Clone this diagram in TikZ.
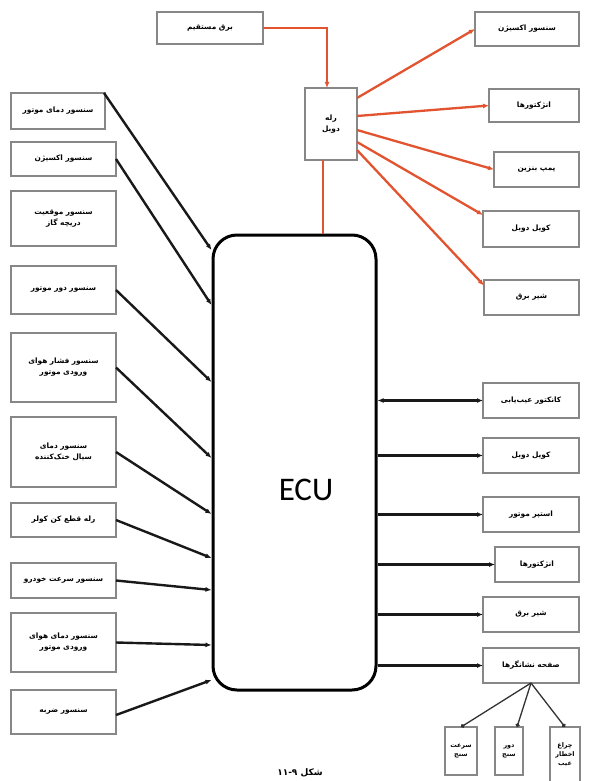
\documentclass[tikz,border=0pt]{standalone}
\usepackage{fontspec}
\setmainfont{Carlito}
\newfontfamily\fafont[Script=Arabic]{DejaVu Sans}
\TeXXeTstate=1
\newcommand{\fa}[1]{{\fafont\bfseries\beginR #1\endR}}
\usetikzlibrary{arrows.meta}
\definecolor{relred}{RGB}{226,84,48}
\definecolor{boxgray}{RGB}{135,135,135}
\tikzset{
  box/.style={draw=boxgray, line width=1.7pt, fill=white, inner sep=1pt, outer sep=0pt,
    align=center, font=\fontsize{7.4}{11}\selectfont},
  smallbox/.style={box, font=\fontsize{6.4}{9}\selectfont},
  redline/.style={draw=relred, line width=2.3pt},
  blkline/.style={draw=black!90, line width=2.4pt},
  tip/.style={-{Latex[length=6pt,width=5pt]}},
  bitip/.style={{Latex[length=6pt,width=5pt]}-{Latex[length=6pt,width=5pt]}},
}
\begin{document}
\begin{tikzpicture}[x=1pt,y=-1pt]
\useasboundingbox (0,0) rectangle (589,781);
\fill[white] (0,0) rectangle (589,781);

% ECU
\node[draw=black, line width=3pt, rounded corners=24pt, minimum width=163pt, minimum height=455pt, inner sep=0pt] (ecu) at (294.5,462.5) {};
\node[font=\fontsize{33}{36}\selectfont] (ecutxt) at (306,490) {ECU};

% top relay part
\node[box, minimum width=106pt, minimum height=32pt] (dc) at (210,28) {\fa{برق مستقیم}};
\node[box, minimum width=52pt, minimum height=72pt] (relay) at (331,124) {\fa{رله}\\\fa{دوبل}};
\node[box, minimum width=104pt, minimum height=34pt] (r1) at (527,29) {\fa{سنسور اکسیژن}};
\node[box, minimum width=90pt, minimum height=33pt] (r2) at (534,105.5) {\fa{انژکتورها}};
\node[box, minimum width=85pt, minimum height=35pt] (r3) at (536.5,169.5) {\fa{پمپ بنزین}};
\node[box, minimum width=96pt, minimum height=36pt] (r4) at (531,229) {\fa{کویل دوبل}};
\node[box, minimum width=95pt, minimum height=35pt] (r5) at (531.5,297.5) {\fa{شیر برق}};

\draw[redline, tip] (dc.east) -| ([xshift=-4pt]relay.north);
\draw[redline] ([xshift=-8pt]relay.south) -- ([xshift=-8pt]relay.south |- ecu.north);
\draw[redline, tip] ([yshift=26pt]relay.east) -- (r1.west);
\draw[redline, tip] ([yshift=8pt]relay.east) -- (r2.west);
\draw[redline, tip] ([yshift=-6pt]relay.east) -- (r3.west);
\draw[redline, tip] ([yshift=-18pt]relay.east) -- ([yshift=14pt]r4.west);
\draw[redline, tip] ([yshift=-26pt]relay.east) -- ([yshift=12pt]r5.west);

% left inputs
\node[box, minimum width=94pt, minimum height=36pt] (l1) at (58,111) {\fa{سنسور دمای موتور}};
\node[box, minimum width=105pt, minimum height=34pt] (l2) at (63.5,159) {\fa{سنسور اکسیژن}};
\node[box, minimum width=105pt, minimum height=55pt] (l3) at (63.5,218.5) {\fa{سنسور موقعیت}\\\fa{دریچه گاز}};
\node[box, minimum width=105pt, minimum height=48pt] (l4) at (63.5,290) {\fa{سنسور دور موتور}};
\node[box, minimum width=105pt, minimum height=69pt] (l5) at (63.5,367.5) {\fa{سنسور فشار هوای}\\\fa{ورودی موتور}};
\node[box, minimum width=105pt, minimum height=70pt] (l6) at (63.5,452) {\fa{سنسور دمای}\\\fa{سیال خنک‌کننده}};
\node[box, minimum width=105pt, minimum height=34pt] (l7) at (63.5,520) {\fa{رله قطع کن کولر}};
\node[box, minimum width=105pt, minimum height=35pt] (l8) at (63.5,580.5) {\fa{سنسور سرعت خودرو}};
\node[box, minimum width=105pt, minimum height=59pt] (l9) at (63.5,642.5) {\fa{سنسور دمای هوای}\\\fa{ورودی موتور}};
\node[box, minimum width=105pt, minimum height=44pt] (l10) at (63.5,712) {\fa{سنسور ضربه}};

\coordinate (e1) at (ecu.west |- 0,250);
\coordinate (e2) at (ecu.west |- 0,305);
\coordinate (e4) at (ecu.west |- 0,382);
\coordinate (e5) at (ecu.west |- 0,458);
\coordinate (e6) at (ecu.west |- 0,514);
\coordinate (e7) at (ecu.west |- 0,558);
\coordinate (e8) at (ecu.west |- 0,590);
\coordinate (e9) at (ecu.west |- 0,645);
\coordinate (e10) at (ecu.west |- 0,680);

\draw[blkline, tip] ([xshift=-1pt]l1.north east) -- (e1);
\draw[blkline, tip] (l2.east) -- (e2);
\draw[blkline, tip] (l4.east) -- (e4);
\draw[blkline, tip] (l5.east) -- (e5);
\draw[blkline, tip] (l6.east) -- (e6);
\draw[blkline, tip] (l7.east) -- (e7);
\draw[blkline, tip] (l8.east) -- (e8);
\draw[blkline, tip] (l9.east) -- (e9);
\draw[blkline, tip] ([yshift=-3pt]l10.east) -- (e10);

% right outputs
\node[box, minimum width=96pt, minimum height=35pt] (k1) at (531,400.5) {\fa{کانکتور عیب‌یابی}};
\node[box, minimum width=96pt, minimum height=35pt] (k2) at (531,455.5) {\fa{کویل دوبل}};
\node[box, minimum width=96pt, minimum height=35pt] (k3) at (531,514.5) {\fa{استپر موتور}};
\node[box, minimum width=84pt, minimum height=35pt] (k4) at (537,564.5) {\fa{انژکتورها}};
\node[box, minimum width=96pt, minimum height=35pt] (k5) at (531,614.5) {\fa{شیر برق}};
\node[box, minimum width=96pt, minimum height=35pt] (k6) at (531,665.5) {\fa{صفحه نشانگرها}};

\draw[blkline, bitip] (ecu.east |- k1.west) -- (k1.west);
\draw[blkline, tip] (ecu.east |- k2.west) -- (k2.west);
\draw[blkline, tip] (ecu.east |- k3.west) -- (k3.west);
\draw[blkline, tip] (ecu.east |- k4.west) -- (k4.west);
\draw[blkline, tip] (ecu.east |- k5.west) -- (k5.west);
\draw[blkline, tip] (ecu.east |- k6.west) -- (k6.west);

% gauges
\node[smallbox, minimum width=32pt, minimum height=48pt] (s1) at (461,751) {\fa{سرعت}\\\fa{سنج}};
\node[smallbox, minimum width=28pt, minimum height=48pt] (s2) at (509,751) {\fa{دور}\\\fa{سنج}};
\node[smallbox, minimum width=30pt, minimum height=56pt] (s3) at (565,755) {\fa{چراغ}\\\fa{اخطار}\\\fa{عیب}};
\draw[draw=black!80, line width=1.3pt, -{Circle[length=4pt]}] (k6.south) -- (s1.north);
\draw[draw=black!80, line width=1.3pt, -{Circle[length=4pt]}] (k6.south) -- ([xshift=8pt]s2.north);
\draw[draw=black!80, line width=1.3pt, -{Circle[length=4pt]}] (k6.south) -- (s3.north);

% caption
\node[font=\fontsize{9}{11}\selectfont, inner sep=0pt] (cap) at (300,773) {\fa{شکل ۱۱-۹}};
\end{tikzpicture}
\end{document}
